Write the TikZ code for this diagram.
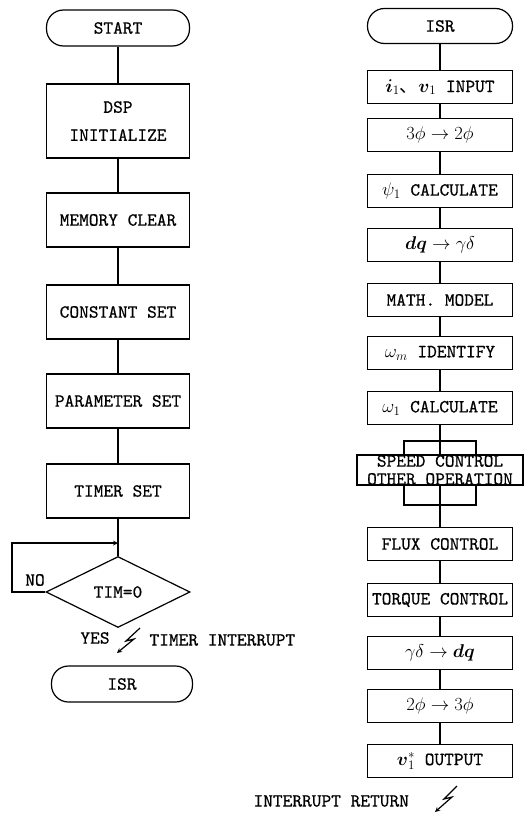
\documentclass[tikz,border=0pt]{standalone}
\usepackage{fix-cm}
\usepackage{amsmath}
\usepackage{fontspec}
\newfontfamily\cjk{Noto Sans CJK JP}
\newfontfamily\flowfont{lmmono10-regular.otf}[FakeBold=0.6]
\usetikzlibrary{shapes.geometric}

\begin{document}
\begin{tikzpicture}[
    x=1pt, y=-1pt,
    font=\fontsize{18.5}{22}\selectfont\flowfont,
    box/.style={draw, line width=1.2pt, minimum width=143pt, minimum height=54pt, align=center, inner sep=2pt},
    rbox/.style={draw, line width=1.2pt, minimum width=145pt, minimum height=33pt, align=center, inner sep=2pt},
    term/.style={draw, line width=1.2pt, rounded corners=17pt, minimum width=143pt, minimum height=36pt},
    decision/.style={draw, line width=1.2pt, diamond, aspect=2, minimum width=144pt, minimum height=71pt, inner sep=0pt},
    line/.style={line width=1.2pt},
    arrow/.style={line width=1.2pt, ->, >=stealth}
]
\useasboundingbox (0,0) rectangle (528,816);

% Main program
\node[term] (start) at (118,28) {START};
\node[box, minimum height=74pt] (dsp) at (118,121) {DSP\\[6pt]INITIALIZE};
\node[box] (mem) at (118,220) {MEMORY CLEAR};
\node[box] (const) at (118,312) {CONSTANT SET};
\node[box] (param) at (118,401) {PARAMETER SET};
\node[box] (timer) at (118,491) {TIMER SET};
\node[decision] (tim) at (118,592) {TIM=0};
\node[term, minimum width=141pt] (isr) at (122,684) {ISR};

\node (no) at (35,580) {NO};
\node (yes) at (95,638) {YES};
\node[anchor=west] (tint) at (146,640) {TIMER INTERRUPT};

\foreach \a/\b in {start/dsp, dsp/mem, mem/const, const/param, param/timer, timer/tim}
    \draw[line] (\a) -- (\b);

% Wait loop
\coordinate (nobend) at (12,543);
\coordinate (join) at (118,543);
\draw[arrow] (tim.west) -| (nobend) -- (join);

% Interrupt
\coordinate (zapa) at (140,628);
\coordinate (zapb) at (126,641);
\coordinate (zapc) at (134,639);
\coordinate (zapd) at (117,653);
\draw[arrow] (zapa) -- (zapb) -- (zapc) -- (zapd);

% Interrupt service routine
\node[term, minimum width=145pt, minimum height=35pt] (risr) at (440,26) {ISR};
\node[rbox] (input) at (440,87) {$\boldsymbol{i}_1${\cjk 、}$\boldsymbol{v}_1$ INPUT};
\node[rbox] (phia) at (440,135) {$3\phi\rightarrow2\phi$};
\node[rbox] (psi) at (440,191) {$\psi_1$ CALCULATE};
\node[rbox] (dqg) at (440,245) {$\boldsymbol{dq}\rightarrow\gamma\delta$};
\node[rbox] (math) at (440,300) {MATH. MODEL};
\node[rbox] (wm) at (440,353) {$\omega_m$ IDENTIFY};
\node[rbox] (wone) at (440,408) {$\omega_1$ CALCULATE};
\node[draw, line width=1.2pt, minimum width=72pt, minimum height=64pt] (loop) at (440,473) {};
\node[rbox, fill=white, minimum width=166pt, minimum height=30pt, inner sep=0pt] (speed) at (440,470) {SPEED CONTROL\\[-4pt]OTHER OPERATION};
\node[rbox] (flux) at (440,544) {FLUX CONTROL};
\node[rbox] (torque) at (440,600) {TORQUE CONTROL};
\node[rbox] (gdq) at (440,653) {$\gamma\delta\rightarrow\boldsymbol{dq}$};
\node[rbox] (phib) at (440,706) {$2\phi\rightarrow3\phi$};
\node[rbox] (out) at (440,761) {$\boldsymbol{v}_1^{*}$ OUTPUT};

\foreach \a/\b in {risr/input, input/phia, phia/psi, psi/dqg, dqg/math, math/wm, wm/wone, wone/speed, speed/flux, flux/torque, torque/gdq, gdq/phib, phib/out}
    \draw[line] (\a) -- (\b);

\node[anchor=west] (iret) at (250,801) {INTERRUPT RETURN};
\coordinate (reta) at (457,786);
\coordinate (retb) at (444,799);
\coordinate (retc) at (452,797);
\coordinate (retd) at (435,812);
\draw[arrow] (reta) -- (retb) -- (retc) -- (retd);

\end{tikzpicture}
\end{document}
